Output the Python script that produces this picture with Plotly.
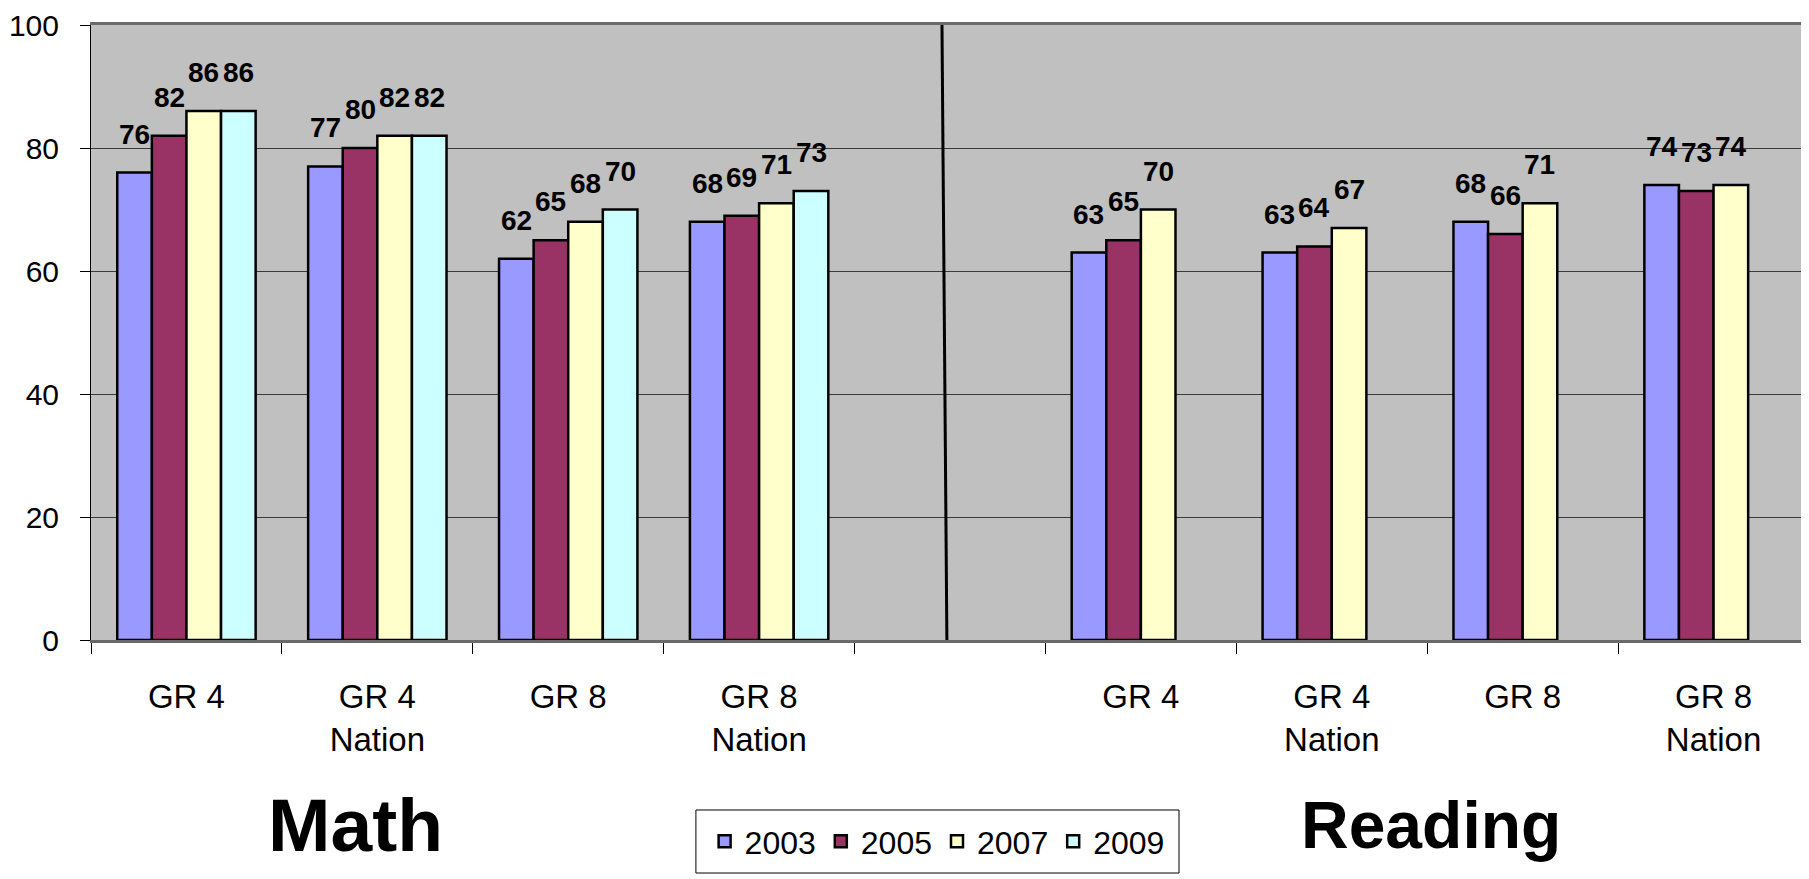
import plotly.graph_objects as go

# ---- data ----
categories = ["GR 4", "GR 4<br>Nation", "GR 8", "GR 8<br>Nation", "",
              "GR 4", "GR 4<br>Nation", "GR 8", "GR 8<br>Nation"]
years = ["2003", "2005", "2007", "2009"]
scores_2003 = [76, 77, 62, 68, None, 63, 63, 68, 74]
scores_2005 = [82, 80, 65, 69, None, 65, 64, 66, 73]
scores_2007 = [86, 82, 68, 71, None, 70, 67, 71, 74]
scores_2009 = [86, 82, 70, 73, None, None, None, None, None]
subject_titles = ["Math", "Reading"]
y_ticks = [0, 20, 40, 60, 80, 100]

series = [scores_2003, scores_2005, scores_2007, scores_2009]
colors = ["#9999FF", "#993366", "#FFFFCC", "#CCFFFF"]
FONT = "Liberation Sans, Arial, sans-serif"

xs = list(range(len(categories)))
gap_index = categories.index("")

BARGAP = 0.275
fig = go.Figure()
for name, vals, col in zip(years, series, colors):
    fig.add_trace(go.Bar(
        x=xs, y=vals, name=name,
        marker=dict(color=col, line=dict(color="black", width=2.5)),
    ))

# data labels above bars
n = len(series)
group_w = 1 - BARGAP
bar_w = group_w / n
for k, vals in enumerate(series):
    off = -group_w / 2 + (k + 0.5) * bar_w
    for i, v in enumerate(vals):
        if v is None:
            continue
        fig.add_annotation(x=xs[i] + off, y=v, text=f"<b>{v}</b>",
                           showarrow=False, yanchor="bottom", yshift=21,
                           font=dict(family=FONT, size=28, color="black"))

# subject titles
fig.add_annotation(x=0.1542, y=-0.301, xref="paper", yref="paper",
                   text=f"<b>{subject_titles[0]}</b>", showarrow=False,
                   yanchor="middle", xanchor="center",
                   font=dict(family=FONT, size=75, color="black"))
fig.add_annotation(x=0.780, y=-0.301, xref="paper", yref="paper",
                   text=f"<b>{subject_titles[1]}</b>", showarrow=False,
                   yanchor="middle", xanchor="center",
                   font=dict(family=FONT, size=66, color="black"))

# divider between subjects
fig.add_shape(type="line", x0=gap_index - 0.042, x1=gap_index - 0.016,
              y0=100, y1=-1.3, xref="x", yref="y",
              line=dict(color="black", width=3), layer="above")

# legend frame
fig.add_shape(type="rect", xref="paper", yref="paper",
              x0=0.3521, x1=0.6333, y0=-0.2764, y1=-0.3789,
              line=dict(color="black", width=1), fillcolor="rgba(0,0,0,0)")

fig.update_layout(
    width=1801, height=871,
    margin=dict(l=83, r=0, t=17, b=239),
    paper_bgcolor="white", plot_bgcolor="#C0C0C0",
    barmode="group", bargap=BARGAP, bargroupgap=0,
    font=dict(family=FONT, size=33, color="black"),
    showlegend=True,
    legend=dict(orientation="h", x=0.4925, xanchor="center",
                y=-0.3276, yanchor="middle",
                bgcolor="rgba(0,0,0,0)", borderwidth=0,
                font=dict(family=FONT, size=32, color="black")),
)

fig.update_xaxes(
    range=[-0.5, len(categories) - 0.5], automargin=False,
    tickmode="array", tickvals=xs, ticktext=categories,
    ticks="", showgrid=False, zeroline=False,
    showline=True, linecolor="#6a6a6a", linewidth=3, mirror=True,
    ticklabelstandoff=25, ticklabeloverflow="allow",
    tickfont=dict(family=FONT, size=33, color="black"),
    minor=dict(tickmode="array", tickvals=[x - 0.5 for x in xs],
               ticks="outside", ticklen=11, tickcolor="black", tickwidth=1,
               showgrid=False),
)
fig.update_yaxes(
    range=[0, 100], automargin=False,
    tickmode="array", tickvals=y_ticks,
    ticks="outside", ticklen=10, tickcolor="black", tickwidth=1,
    showgrid=True, gridcolor="#3a3a3a", gridwidth=1,
    zeroline=False, showline=True, linecolor="black", linewidth=1,
    ticklabelstandoff=15, ticklabeloverflow="allow",
    tickfont=dict(family=FONT, size=30, color="black"),
)

fig.write_html("out.html")
